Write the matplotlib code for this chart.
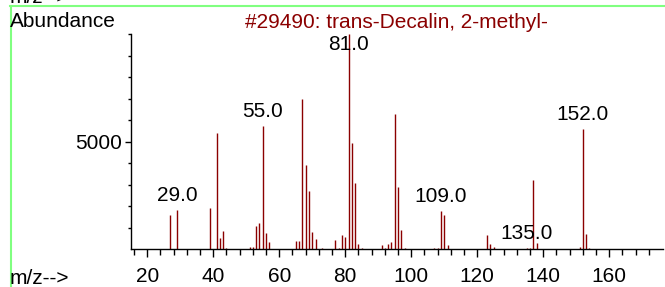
import matplotlib
matplotlib.use("Agg")
import matplotlib.pyplot as plt
from matplotlib.lines import Line2D

plt.rcParams["font.family"] = ["Liberation Sans", "DejaVu Sans"]

title = "#29490: trans-Decalin, 2-methyl-"

mz = [27, 29, 39, 41, 42, 43, 44, 51, 52, 53, 54, 55, 56, 57, 63, 65, 66, 67, 68, 69,
      70, 71, 73, 77, 78, 79, 80, 81, 82, 83, 84, 85, 91, 92, 93, 94, 95, 96, 97, 98,
      105, 107, 108, 109, 110, 111, 123, 124, 125, 135, 136, 137, 138, 147, 151, 152, 153, 154]
abundance = [1600, 1830, 1920, 5400, 530, 850, 50, 120, 120, 1080, 1220, 5730, 745, 355, 20, 390, 395, 7000, 3920, 2710,
             820, 465, 40, 430, 60, 665, 585, 10000, 4960, 3060, 230, 40, 200, 60, 250, 325, 6290, 2910, 895, 40,
             20, 40, 80, 1800, 1590, 200, 665, 250, 100, 50, 60, 3220, 280, 20, 120, 5570, 710, 40]
labeled = [29, 55, 81, 109, 135, 152]

W, H = 665, 287
fig = plt.figure(figsize=(W / 100, H / 100), dpi=100)
ax = fig.add_axes([130.7 / W, 1 - 249.3 / H, (663 - 130.7) / W, (249.3 - 34) / H])

red = "#8b0000"
ax.vlines(mz, 0, abundance, color=red, linewidth=1.0)

ax.set_xlim(15, 176.3)
ax.set_ylim(0, 10000)

for m in labeled:
    v = abundance[mz.index(m)]
    if v > 8500:
        ax.annotate(f"{m:.1f}", (m, 10000), xytext=(0, -1), textcoords="offset pixels",
                    ha="center", va="top", fontsize=15)
    else:
        ax.annotate(f"{m:.1f}", (m, v), xytext=(0, 5), textcoords="offset pixels",
                    ha="center", va="bottom", fontsize=15)

for s in ["top", "right"]:
    ax.spines[s].set_visible(False)
for s in ["left", "bottom"]:
    ax.spines[s].set_linewidth(1.0)

ax.set_xticks(range(20, 161, 20))
ax.set_xticks(range(16, 175, 4), minor=True)
ax.set_yticks([5000])
ax.set_yticks(range(1000, 10001, 1000), minor=True)
ax.tick_params(axis="x", which="major", length=6, width=1, labelsize=15, pad=7)
ax.tick_params(axis="x", which="minor", length=4, width=1)
ax.tick_params(axis="y", which="major", length=4, width=1, labelsize=15, pad=2)
ax.tick_params(axis="y", which="minor", length=2.5, width=1)

fig.text(10 / W, 1 - 26.7 / H, "Abundance", fontsize=15, va="baseline", ha="left")
fig.text(396.5 / W, 1 - 27.5 / H, title, fontsize=15, color=red, va="baseline", ha="center")
fig.text(10 / W, 1 - 284 / H, "m/z-->", fontsize=15, va="baseline", ha="left")
fig.text(10 / W, 1 - 3 / H, "m/z-->", fontsize=15, va="baseline", ha="left")

green = "#80ff80"
fig.add_artist(Line2D([10.5 / W, 10.5 / W], [0, 1 - 6 / H], color=green, linewidth=1.5,
                      transform=fig.transFigure))
fig.add_artist(Line2D([10 / W, 1], [1 - 6 / H, 1 - 6 / H], color=green, linewidth=1.5,
                      transform=fig.transFigure))

fig.savefig("out.png", dpi=100)
